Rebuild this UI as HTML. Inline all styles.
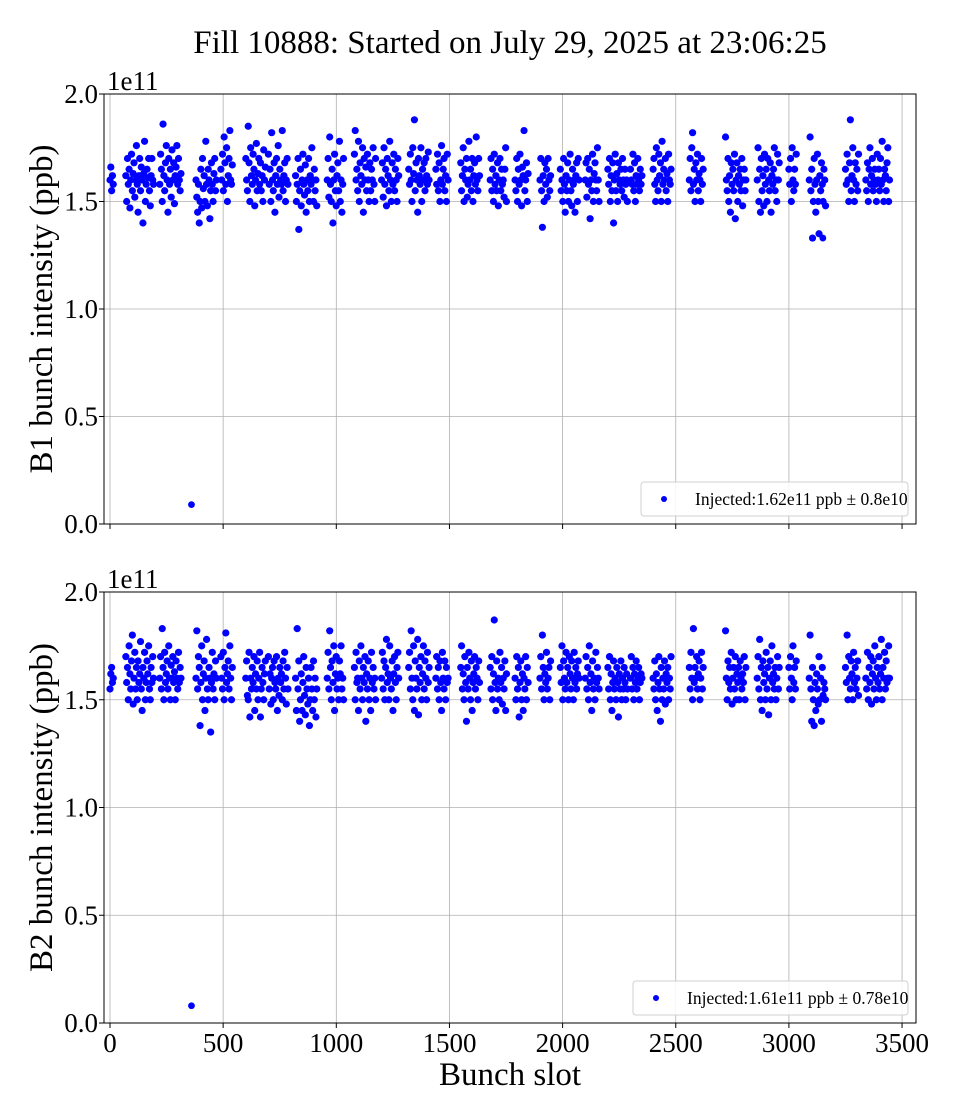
<!DOCTYPE html>
<html><head><meta charset="utf-8">
<style>
html,body{margin:0;padding:0;background:#fff;}
svg{display:block;font-family:"Liberation Serif","DejaVu Serif",serif;}
</style></head>
<body>
<svg id="chart" width="960" height="1120" viewBox="0 0 960 1120" xmlns="http://www.w3.org/2000/svg">
<text x="510" y="53" font-size="33" text-anchor="middle">Fill 10888: Started on July 29, 2025 at 23:06:25</text>
<g id="p1"></g>
<g id="p2"></g>
<text x="510" y="1085" font-size="33" text-anchor="middle">Bunch slot</text>
</svg>
<script>
// ---- data (intensity in units of 1e9 ppb) ----
const xTicks=[0,500,1000,1500,2000,2500,3000,3500];
const yTicks=[0,0.5,1.0,1.5,2.0];
const yTickLabels=["0.0","0.5","1.0","1.5","2.0"];
const trainStarts=[0,70,220,380,490,600,700,820,960,1080,1200,1320,1440,1550,1680,1790,1900,1990,2100,2200,2300,2400,2560,2720,2860,3000,3090,3250,3340];
const b1Trains=[
[160,166,155,162,158],
[162,150,170,158,165,147,160,172,155,163,168,152,160,176,158,145,162,170,155,166,160,140,163,178,150,158,165,161,170,155,148,162,170,160,158],
[158,172,165,150,186,162,155,168,176,160,145,170,158,165,152,174,160,168,149,162,166,176,158,170,160,155,163],
[160,152,145,158,140,150,165,147,170,156,162,150,178,158,148,165,160,142,155,168,158,150,163,170,155,160],
[165,160,172,155,180,168,158,175,150,162,170,183,160,158,167],
[170,160,155,185,168,150,175,162,158,172,165,148,160,177,155,163,170,158,168,155,162,150,174,160,166],
[172,158,165,150,182,160,155,168,145,162,170,158,176,152,165,160,158,183,155,162,168,150,160,170,158],
[162,150,158,170,137,155,165,148,160,172,158,153,167,145,160,155,170,150,162,158,175,160,150,165,155,160,148],
[160,170,152,180,158,150,165,140,160,172,155,148,162,168,155,178,150,160,145,158,170],
[172,183,160,165,155,178,150,168,162,158,175,145,170,160,166,155,172,160,150,168,155,165,160,175,158,150,170],
[160,168,152,175,158,165,148,170,162,155,178,160,150,168,158,172,155,165,160,150,170,162],
[165,158,172,160,150,175,163,188,155,168,160,145,170,162,158,175,150,165,160,168,155,170,162,158,173,160],
[165,158,172,155,168,150,160,176,158,165,170,155,162,150,172,160],
[168,155,162,175,150,165,160,170,152,158,178,160,165,155,170,150,162,168,158,180,160,155,170,162],
[160,170,155,165,150,172,158,162,155,168,148,160,170,155,165,158,160,152,165,175,150],
[160,155,170,150,165,158,172,160,148,166,162,183,155,160,168,150,163],
[160,170,155,138,162,150,168,158,165,152,170,160,155,162],
[165,155,160,150,170,158,145,162,155,168,150,160,172,155,148,165,158,160,145,162,168,150,170,160],
[160,168,152,170,158,165,142,160,155,172,150,163,168,160,155,175,160,150],
[165,158,170,150,162,155,168,140,160,172,155,163,150,168,160,158,165,155,170,160,152,165,158,160,150],
[165,160,158,172,155,168,150,162,158,170,160,155,165,158,162],
[165,170,158,150,175,160,155,172,162,168,150,178,158,165,160,170,155,163,150,172,160,158,165],
[160,170,155,175,182,158,165,150,168,160,172,155,163,160,150,170,158,165],
[180,160,155,170,150,162,145,168,158,165,155,172,142,160,168,150,162,158,165,155,170,148,160,165,155,160],
[160,175,150,165,145,170,155,162,148,172,158,165,150,170,160,155,168,145,162,158,165,175,155,160,150,172,160,168],
[165,158,170,150,175,160,155,165,158,172],
[160,180,155,165,133,150,170,158,145,160,172,150,135,162,155,168,158,150,165,160,148],
[165,158,172,160,150,168,188,155,162,175,160,150,168,158,165,155,172],
[160,155,168,150,165,175,158,162,170,155,160,165,158,150,172,160,165,155,170,158,178,160,150,165,162,155,168,175,150,160]
];
const b2Trains=[
[155,162,165,158,160],
[170,158,165,150,175,162,155,168,180,148,160,172,155,165,150,168,158,162,177,155,145,165,160,172,150,158,168,162,175,155,150,165,158,170,160],
[160,170,155,183,165,150,172,158,162,168,155,175,160,150,166,160,170,158,163,150,168,160,155,172,158,165,160],
[160,182,155,170,165,138,158,175,150,162,168,145,160,178,155,150,165,160,135,158,172,155,162,150,168,160],
[170,160,155,172,150,165,181,158,162,168,155,175,160,150,165],
[160,168,152,150,172,142,160,155,165,158,170,145,162,155,168,150,160,172,142,155,165,158,150,162,168],
[170,155,162,148,160,165,150,168,158,155,170,145,160,152,165,158,162,150,168,155,172,160,148,165,155],
[160,145,183,155,168,140,150,162,145,158,170,152,143,165,155,148,160,138,150,165,155,145,168,150,160,142,155],
[160,172,155,182,165,150,168,158,175,145,162,170,155,160,150,168,162,175,155,160,150],
[165,150,172,158,160,145,168,155,175,160,150,165,158,170,140,162,155,168,150,160,145,172,158,165,155,160,150],
[160,172,155,168,150,165,178,158,162,150,175,160,155,168,145,162,170,158,150,165,172,160],
[165,172,155,182,160,150,175,145,168,160,155,178,143,165,158,170,150,162,175,155,168,160,150,172,158,165],
[160,170,155,165,150,168,158,145,172,160,155,168,150,165,158,160],
[165,175,155,162,150,170,158,140,165,155,172,160,150,168,145,158,162,170,155,165,160,150,168,158],
[165,155,170,150,162,187,158,145,168,155,160,150,172,158,165,148,160,155,168,145,162],
[160,150,170,155,165,142,158,168,150,162,145,160,155,170,150,165,158],
[160,170,155,180,165,150,162,158,172,155,160,165,150,168],
[165,158,175,150,168,160,155,172,158,165,150,170,162,155,168,160,150,172,158,165,155,162,168,160],
[160,170,155,165,150,175,158,162,145,168,155,160,150,172,158,165,160,155],
[165,155,170,150,162,145,158,168,155,160,150,165,158,142,162,155,168,150,160,155,165,158,150,162,155],
[160,170,155,165,150,162,158,168,155,160,165,150,158,162,160],
[160,155,168,150,162,145,158,170,155,140,165,150,160,155,168,148,162,158,165,150,160,155,170],
[165,155,172,160,150,183,158,165,160,170,155,162,168,150,160,172,155,165],
[182,160,150,168,158,165,155,172,148,160,165,155,170,150,162,158,165,150,168,160,155,162,158,170,150,165],
[160,170,155,178,150,165,145,168,158,162,150,172,155,165,143,160,168,150,175,158,162,155,165,150,160,170,155,165],
[165,155,170,160,150,175,158,165,155,168],
[160,180,155,140,165,150,138,158,145,162,155,148,170,150,160,140,165,152,158,155,150],
[165,158,180,150,170,160,155,168,162,150,172,158,165,155,160,168,152],
[160,155,172,150,165,158,170,148,162,168,155,175,160,150,165,158,170,155,162,178,150,165,160,172,155,168,158,160,175,160]
];
const b1Outliers=[[360,9],[3150,133]];
const b2Outliers=[[360,8]];
const trainSpacing=[3.6];
const legendLabels=["Injected:1.62e11 ppb \u00b1 0.8e10","Injected:1.61e11 ppb \u00b1 0.78e10"];
const yLabels=["B1 bunch intensity (ppb)","B2 bunch intensity (ppb)"];

const NS="http://www.w3.org/2000/svg";
function mk(tag,attrs,parent){const e=document.createElementNS(NS,tag);for(const k in attrs)e.setAttribute(k,attrs[k]);parent.appendChild(e);return e;}
const X0=104,X1=916;
function xs(v){return 110+v*0.2263;}
function drawPanel(g,top,bottom,trains,outliers,legend,ylab,showXLabels,lw){
  const ys=v=>bottom-(v/2.0)*(bottom-top);
  xTicks.forEach(t=>{const l=mk('line',{x1:xs(t),x2:xs(t),y1:top,y2:bottom,stroke:'#b0b0b0','stroke-width':0.8},g);
    
    
    const tk=mk('line',{x1:xs(t),x2:xs(t),y1:bottom,y2:bottom+5,stroke:'#000','stroke-width':1},g);
    
    
    if(showXLabels){const tx=mk('text',{x:xs(t),y:bottom+29,'font-size':27,'text-anchor':'middle'},g);tx.textContent=String(t);
      
      }
  });
  yTicks.forEach((t,i)=>{const l=mk('line',{x1:X0,x2:X1,y1:ys(t),y2:ys(t),stroke:'#b0b0b0','stroke-width':0.8},g);
    
    
    const tk=mk('line',{x1:X0-5,x2:X0,y1:ys(t),y2:ys(t),stroke:'#000','stroke-width':1},g);
    
    
    const tx=mk('text',{x:X0-6,y:ys(t)+9,'font-size':27,'text-anchor':'end'},g);tx.textContent=yTickLabels[i];
    
    
  });
  const off=mk('text',{x:X0+3,y:top-4,'font-size':27},g);off.textContent='1e11';
  
  
  const yl=mk('text',{x:0,y:0,'font-size':33,'text-anchor':'middle',transform:`translate(52,${(top+bottom)/2}) rotate(-90)`},g);yl.textContent=ylab;
  
  
  trains.forEach((vals,ti)=>{vals.forEach((v,j)=>{
    const c=mk('circle',{cx:xs(trainStarts[ti]+j*trainSpacing[0]),cy:ys(v/100),r:3.6,fill:'#0000ff'},g);
    
    
  });});
  outliers.forEach(o=>{const c=mk('circle',{cx:xs(o[0]),cy:ys(o[1]/100),r:3.4,fill:'#0000ff'},g);
    
    });
  const fr=mk('rect',{x:X0,y:top,width:X1-X0,height:bottom-top,fill:'none',stroke:'#000','stroke-width':1},g);
  
  
  const lx=X1-8-lw, ly=bottom-42;
  const lg=mk('g',{},g);
  
  
  mk('rect',{x:lx,y:ly,width:lw,height:34,rx:3,fill:'#fff','fill-opacity':0.85,stroke:'#d0d0d0'},lg);
  mk('circle',{cx:lx+23,cy:ly+17,r:3,fill:'#0000ff'},lg);
  const lt=mk('text',{x:lx+54,y:ly+23,'font-size':17.5},lg);lt.textContent=legend;
}
drawPanel(document.getElementById('p1'),94,524,b1Trains,b1Outliers,legendLabels[0],yLabels[0],false,267);
drawPanel(document.getElementById('p2'),592,1023,b2Trains,b2Outliers,legendLabels[1],yLabels[1],true,275);
</script>
</body></html>
